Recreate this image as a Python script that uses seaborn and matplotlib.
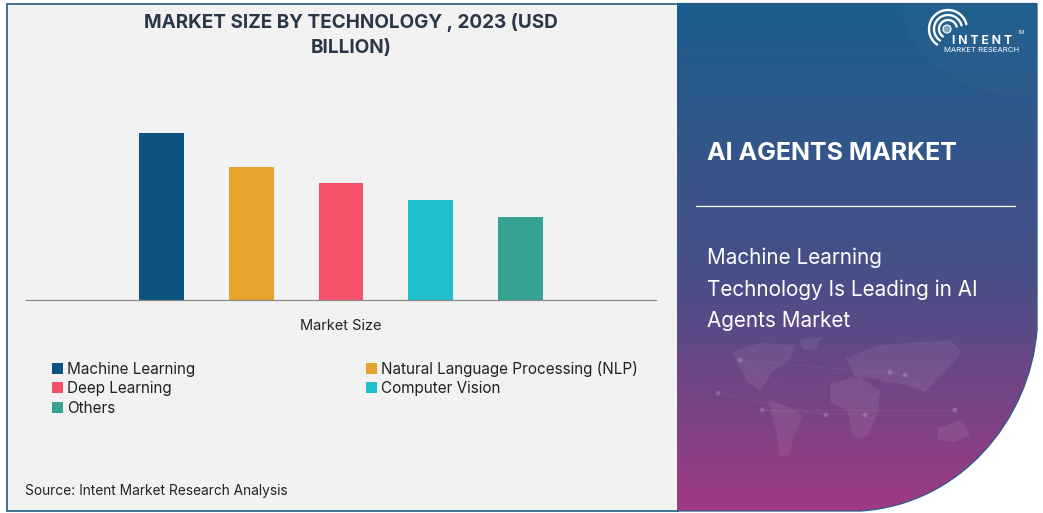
import numpy as np
import pandas as pd
import seaborn as sns
import matplotlib
matplotlib.use("Agg")
import matplotlib.pyplot as plt
from matplotlib.path import Path
from matplotlib.patches import PathPatch, Rectangle, Circle, Polygon

technologies = ["Machine Learning", "Natural Language Processing (NLP)", "Deep Learning", "Computer Vision", "Others"]
market_size = [10, 8, 7, 6, 5]
bar_colors = ["#0B5380", "#E3A52C", "#F4506A", "#1CBFCB", "#36A292"]
category = "Market Size"
title_text = "MARKET SIZE BY TECHNOLOGY , 2023 (USD\nBILLION)"
source_text = "Source: Intent Market Research Analysis"
panel_title = "AI AGENTS MARKET"
panel_lines = ["Machine Learning", "Technology Is Leading in AI", "Agents Market"]

sns.set_theme(style="white")
plt.rcParams["font.family"] = ["Inter", "DejaVu Sans"]
W, H = 1043, 513
fig = plt.figure(figsize=(W / 100, H / 100), dpi=100, facecolor="white")

bg = fig.add_axes([0, 0, 1, 1], zorder=0)
bg.set_xlim(0, W)
bg.set_ylim(H, 0)
bg.axis("off")

bg.add_patch(Rectangle((6.5, 3.5), 671, 507.5, fc="#F2F2F2", ec="#1F5A80", lw=1.2))

# right gradient panel
top_c = np.array(matplotlib.colors.to_rgb("#1B5E8C"))
mid_c = np.array(matplotlib.colors.to_rgb("#4A4E88"))
bot_c = np.array(matplotlib.colors.to_rgb("#A03A84"))
t = np.linspace(0, 1, 256)[:, None]
grad = np.where(t < 0.55, top_c + (mid_c - top_c) * (t / 0.55), mid_c + (bot_c - mid_c) * ((t - 0.55) / 0.45))
im = bg.imshow(grad[:, None, :], extent=(677, 1038, 511, 3), aspect="auto", zorder=1)
bg.set_xlim(0, W)
bg.set_ylim(H, 0)
verts = [(677, 3), (1037, 3), (1037, 330), (1030, 420), (960, 505), (860, 511), (677, 511), (677, 3)]
codes = [Path.MOVETO, Path.LINETO, Path.LINETO, Path.CURVE4, Path.CURVE4, Path.CURVE4, Path.LINETO, Path.CLOSEPOLY]
shape = PathPatch(Path(verts, codes), fc="none", ec="none", zorder=3)
bg.add_patch(shape)
im.set_clip_path(shape)
edge_verts = [(677, 3.5), (1037, 3.5), (1037, 330), (1030, 420), (960, 505), (860, 511), (677, 511)]
edge_codes = [Path.MOVETO, Path.LINETO, Path.LINETO, Path.CURVE4, Path.CURVE4, Path.CURVE4, Path.LINETO]
bg.add_patch(PathPatch(Path(edge_verts, edge_codes), fc="none", ec="#2C5A85", lw=0.9, zorder=3))

# lighter arc at the top right of the panel
th = np.linspace(np.pi / 2, np.pi, 60)
arc_pts = np.r_[np.c_[1037 + 135 * np.cos(th), 3 + 95 * np.sin(th)], [[1037, 3]]]
bg.add_patch(Polygon(arc_pts, fc="white", alpha=0.02, ec="none", zorder=2))

# faint world map
continents = [
    [(732, 352), (760, 343), (795, 345), (790, 360), (772, 372), (760, 392), (748, 382), (738, 365)],
    [(768, 400), (790, 408), (802, 415), (795, 435), (788, 455), (780, 456), (776, 430)],
    [(830, 383), (860, 376), (880, 392), (878, 412), (868, 436), (853, 438), (848, 412), (830, 402)],
    [(845, 358), (880, 345), (950, 340), (962, 352), (945, 372), (925, 392), (905, 385), (880, 380), (855, 376)],
    [(938, 428), (962, 420), (970, 435), (955, 442), (938, 440)],
    [(800, 340), (822, 337), (815, 350), (803, 350)],
]
for c in continents:
    bg.add_patch(Polygon(c, fc="white", alpha=0.07, ec="none", zorder=2))
nodes = [(718, 393), (826, 415), (740, 360), (905, 375), (955, 410), (762, 410), (865, 415), (890, 372)]
for (x0, y0), (x1, y1) in zip(nodes[:-1], nodes[1:]):
    bg.plot([x0, x1], [y0, y1], color="white", alpha=0.06, lw=0.6, zorder=2)
for x0, y0 in nodes:
    bg.add_patch(Circle((x0, y0), 2.5, fc="white", alpha=0.16, ec="none", zorder=2))

# logo
cx, cy = 948, 29
for r in [9, 14, 19]:
    phi = np.radians(np.linspace(15, 235, 80))
    bg.plot(cx + r * np.cos(phi), cy - r * np.sin(phi), color="white", lw=1.7, zorder=4)
bg.add_patch(Circle((cx - 1, cy), 4, fc="#7FA7C4", ec="white", lw=0.8, zorder=4))
bg.text(982, 41.5, "I N T E N T", color="white", fontsize=8.8, fontweight="bold", ha="center", va="center", zorder=5)
bg.text(981.5, 50, "MARKET RESEARCH", color="white", fontsize=5.6, ha="center", va="center", zorder=5)
bg.text(1021, 33, "TM", color="white", fontsize=3.5, ha="center", va="center", zorder=5)

# panel text
bg.text(707, 153, panel_title, color="white", fontsize=18, fontweight="bold", va="center", zorder=5)
bg.plot([696, 1015], [206, 206], color="white", lw=0.9, zorder=5)
for y, line in zip([258, 290, 321], panel_lines):
    bg.text(707, y, line, color="white", fontsize=14.9, va="center", zorder=5)

# left texts
bg.text(351, 35, title_text, color="#2B3648", fontsize=13.64, fontweight="bold", ha="center", va="center", linespacing=1.5, zorder=5)
bg.text(25, 491.5, source_text, color="#222222", fontsize=9.9, va="center", zorder=5)

# chart
ax = fig.add_axes([26 / W, 1 - 300 / H, 630 / W, 200 / H], zorder=2)
ax.patch.set_alpha(0)
df = pd.DataFrame({"Category": [category] * len(technologies), "Technology": technologies, "Value": market_size})
sns.barplot(data=df, x="Category", y="Value", hue="Technology", hue_order=technologies,
            palette=bar_colors, width=0.712, gap=0.5, ax=ax, saturation=1, legend=True, linewidth=0)
ax.set_xlim(-0.5, 0.5)
ax.set_ylim(0, 12)
ax.set_xlabel("")
ax.set_ylabel("")
ax.set_yticks([])
ax.tick_params(axis="x", length=0, pad=13.5, labelsize=10.5, labelcolor="#222222")
sns.despine(ax=ax, left=True, top=True, right=True)
ax.spines["bottom"].set_color("#8A8A8A")
ax.spines["bottom"].set_linewidth(0.9)

handles, labels = ax.get_legend_handles_labels()
order = [0, 2, 4, 1, 3]
ax.get_legend().remove()
fig.legend([handles[i] for i in order], [labels[i] for i in order], ncol=2,
           loc="upper left", bbox_to_anchor=(49 / W, 1 - 357.5 / H), frameon=False,
           fontsize=11, labelcolor="#222222", handlelength=0.72, handleheight=0.72,
           handletextpad=0.25, labelspacing=0.3, columnspacing=11.2, borderpad=0.2, borderaxespad=0)

fig.savefig("out.png", dpi=100, facecolor="white")
